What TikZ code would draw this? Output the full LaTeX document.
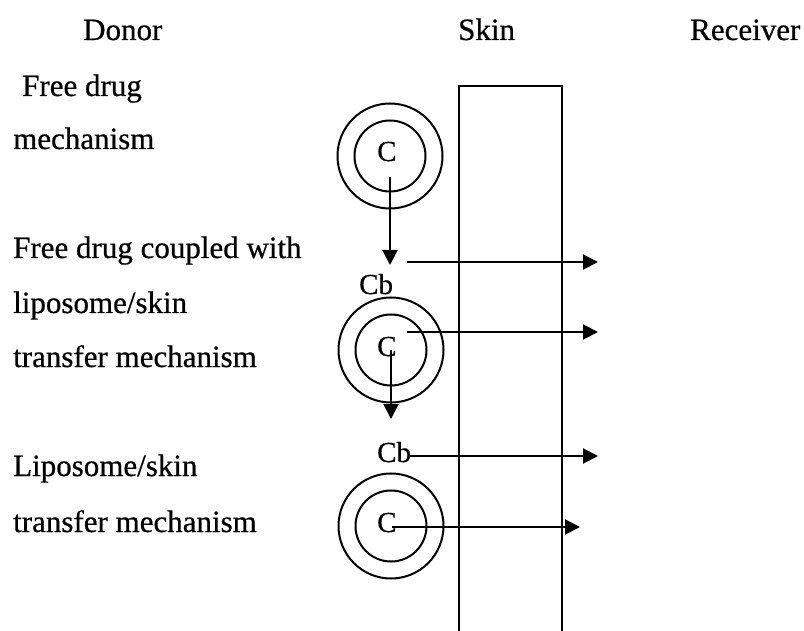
\documentclass[tikz,border=0pt]{standalone}
\usepackage{fontspec}
\setmainfont[FakeBold=0.6]{Liberation Serif}
\usetikzlibrary{arrows.meta}
\begin{document}
\begin{tikzpicture}[x=1pt,y=1pt,
  lbl/.style={anchor=base west,inner sep=0pt,font=\fontsize{31}{36}\selectfont},
  clbl/.style={anchor=base west,inner sep=0pt,font=\fontsize{29}{32}\selectfont},
  outerc/.style={circle,draw,line width=2pt,minimum size=105pt,inner sep=0pt},
  innerc/.style={circle,draw,line width=2pt,minimum size=71pt,inner sep=0pt},
  flow/.style={line width=2pt,-{Triangle[length=15pt,width=15pt]}},
  wall/.style={line width=2pt}]
\useasboundingbox (0,0) rectangle (804,-631);
% headers
\node[lbl] (donor) at (83,-40) {Donor};
\node[lbl] (skin) at (458,-40) {Skin};
\node[lbl] (recv) at (690,-40) {Receiver};
% left labels
\node[lbl] (t1) at (22,-96) {Free drug};
\node[lbl] (t2) at (13,-149) {mechanism};
\node[lbl] (t3) at (13,-258) {Free drug coupled with};
\node[lbl] (t4) at (13,-313) {liposome/skin};
\node[lbl] (t5) at (13,-367) {transfer mechanism};
\node[lbl] (t6) at (13,-476) {Liposome/skin};
\node[lbl] (t7) at (13,-532) {transfer mechanism};
% skin wall
\coordinate (wbl) at (459,-632);
\coordinate (wtl) at (459,-86);
\coordinate (wtr) at (562,-86);
\coordinate (wbr) at (562,-632);
\draw[wall] (wbl) -- (wtl) -- (wtr) -- (wbr);
% circles
\node[outerc] (c1o) at (390,-156) {};
\node[innerc] (c1i) at (390,-156) {};
\node[clbl] (c1) at (377,-161) {C};
\node[outerc] (c2o) at (391,-350) {};
\node[innerc] (c2i) at (391,-350) {};
\node[clbl] (c2) at (377,-356) {C};
\node[outerc] (c3o) at (391,-526) {};
\node[innerc] (c3i) at (391,-526) {};
\node[clbl] (c3) at (377,-532) {C};
% Cb labels
\node[clbl] (cb1) at (359,-294) {Cb};
\node[clbl] (cb2) at (377,-462) {Cb};
% arrow end points
\coordinate (a1s) at (390,-177);
\coordinate (a1e) at (390,-265);
\coordinate (h1s) at (407,-262);
\coordinate (h1e) at (598,-262);
\coordinate (h2s) at (407,-332);
\coordinate (h2e) at (598,-332);
\coordinate (a2s) at (391,-350);
\coordinate (a2e) at (391,-419);
\coordinate (h3s) at (410,-456);
\coordinate (h3e) at (598,-456);
\coordinate (h4s) at (392,-527);
\coordinate (h4e) at (580,-527);
\draw[flow] (a1s) -- (a1e);
\draw[flow] (h1s) -- (h1e);
\draw[flow] (h2s) -- (h2e);
\draw[flow] (a2s) -- (a2e);
\draw[flow] (h3s) -- (h3e);
\draw[flow] (h4s) -- (h4e);
\end{tikzpicture}
\end{document}
